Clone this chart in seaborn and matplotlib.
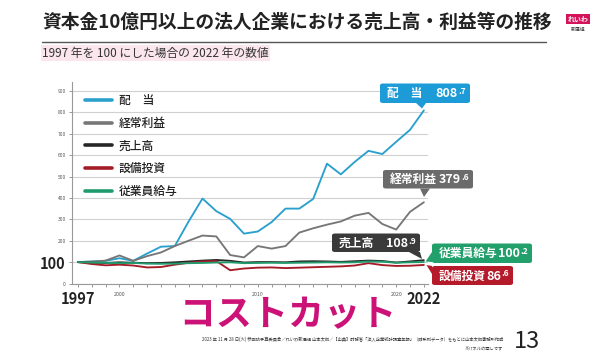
import matplotlib
matplotlib.use("Agg")
import matplotlib.pyplot as plt
import matplotlib.patheffects as pe
from matplotlib.patches import FancyBboxPatch, Polygon
import seaborn as sns
import pandas as pd

# データ (1997年=100)
years = list(range(1997, 2023))
dividend = [100, 103, 106, 118, 106, 140, 172, 175, 290, 397, 338, 302, 233,
            243, 287, 350, 350, 395, 560, 510, 568, 620, 605, 662, 718, 808.7]
profit = [100, 102, 107, 131, 106, 128, 145, 175, 200, 224, 220, 133, 122,
          175, 163, 175, 238, 258, 275, 290, 317, 330, 278, 252, 335, 379.6]
sales = [100, 97, 96, 99, 97, 95, 96, 99, 103, 107, 110, 106, 98,
         100, 100, 99, 103, 104, 103, 101, 104, 107, 105, 98, 103, 108.9]
capex = [100, 91, 85, 88, 84, 75, 77, 88, 97, 103, 105, 62, 70,
         74, 75, 72, 74, 76, 78, 80, 84, 95, 86, 82, 83, 86.6]
salary = [100, 98, 97, 95, 96, 93, 92, 93, 95, 96, 98, 99, 95,
          96, 97, 96, 97, 98, 99, 98, 99, 103, 102, 97, 99, 100.2]

names = ["配　当", "経常利益", "売上高", "設備投資", "従業員給与"]
line_colors = ["#2aa0cd", "#777777", "#262626", "#a31c27", "#1f9b6d"]
box_colors = ["#1d9bd7", "#6b6b6b", "#3a3a3a", "#b51a2b", "#22a06b"]

df = pd.DataFrame({
    "年": years * 5,
    "値": dividend + profit + sales + capex + salary,
    "系列": [n for n in names for _ in years],
})

sns.set_theme(style="white")
plt.rcParams["font.family"] = ["Noto Sans CJK JP", "DejaVu Sans"]

W, H = 600, 361
fig = plt.figure(figsize=(6, 3.61), dpi=100)


def fx(x):
    return x / W


def fy(y):
    return 1 - y / H


ax = fig.add_axes([fx(72), fy(283.5), 356 / W, 201.8 / H])
sns.lineplot(data=df, x="年", y="値", hue="系列", hue_order=names,
             palette=dict(zip(names, line_colors)), linewidth=1.35, ax=ax)

ax.set_xlim(1996.57, 2022.3)
ax.set_ylim(0, 943)
ax.set_xlabel("")
ax.set_ylabel("")

# y軸
ax.set_yticks(range(0, 1000, 100))
ax.set_yticklabels([str(v) for v in range(0, 1000, 100)])
ax.tick_params(axis="y", left=True, length=2.5, width=0.6, color="#888",
               labelsize=3.5, labelcolor="#555", pad=2)
big = ax.get_yticklabels()[1]
big.set_fontsize(10.5)
big.set_fontweight("bold")
big.set_color("#222")
ax.yaxis.grid(True, color="#d0d0d0", linewidth=0.8)

# x軸
ax.set_xticks([1997, 2000, 2010, 2020, 2022])
ax.set_xticklabels(["1997", "2000", "2010", "2020", "2022"])
ax.set_xticks(years, minor=True)
ax.tick_params(axis="x", which="both", bottom=True, length=2.5, width=0.6,
               color="#888", labelsize=3.8, labelcolor="#555", pad=3.5)
for i in (0, 4):
    t = ax.xaxis.get_major_ticks()[i]
    t.tick1line.set_markersize(10)
    t.set_pad(3)
    t.label1.set_fontsize(10.5)
    t.label1.set_fontweight("bold")
    t.label1.set_color("#222")

for s in ("top", "right"):
    ax.spines[s].set_visible(False)
for s in ("left", "bottom"):
    ax.spines[s].set_color("#999")
    ax.spines[s].set_linewidth(0.8)

handles, labels = ax.get_legend_handles_labels()
leg = ax.legend(handles, labels, loc="upper left",
                bbox_to_anchor=((85 - 72) / 356, (283.5 - 94) / 201.8),
                frameon=False, fontsize=8.5, handlelength=2.3,
                handletextpad=0.55, labelspacing=0.82, borderpad=0,
                borderaxespad=0)
for h in leg.get_lines():
    h.set_linewidth(2.6)
for t in leg.get_texts():
    t.set_color("#222")
    t.set_fontweight("medium")

# 末尾の値ラベル
boxes = [
    (380, 83.5, 470, 103, [(416, 103), (426, 103), (422, 108.5)]),
    (383, 170, 473, 188.5, [(420, 188.5), (430, 188.5), (424, 197)]),
    (332, 233.5, 420, 252, [(409, 252), (420, 252), (422, 259)]),
    (432, 243.5, 532, 263, [(432, 252), (432, 262), (425.5, 261.5)]),
    (432, 266, 513, 285, [(432, 266), (432, 274), (426.5, 265)]),
]
values = [dividend[-1], profit[-1], sales[-1], capex[-1], salary[-1]]
order = [0, 1, 2, 4, 3]
for k, (x0, y0, x1, y1, tri) in zip(order, boxes):
    c = box_colors[k]
    fig.patches.append(FancyBboxPatch(
        (fx(x0), fy(y1)), (x1 - x0) / W, (y1 - y0) / H,
        boxstyle="round,pad=0,rounding_size=0.005", transform=fig.transFigure,
        facecolor=c, edgecolor="none"))
    fig.patches.append(Polygon([(fx(a), fy(b)) for a, b in tri], closed=True,
                               transform=fig.transFigure, facecolor=c,
                               edgecolor="none"))
    ym = fy((y0 + y1) / 2 + 0.5)
    fig.text(fx(x0 + 7), ym, names[k], color="white", fontsize=8.5,
             fontweight="bold", ha="left", va="center")
    whole, dec = f"{values[k]:.1f}".split(".")
    fig.text(fx(x1 - 12), ym, whole, color="white", fontsize=9,
             fontweight="bold", ha="right", va="center")
    fig.text(fx(x1 - 12), fy((y0 + y1) / 2 - 1.5), "." + dec, color="white",
             fontsize=6, fontweight="bold", ha="left", va="center")

# タイトル
fig.text(fx(42), fy(22), "資本金10億円以上の法人企業における売上高・利益等の推移",
         fontsize=13.5, fontweight="bold", color="#222", ha="left", va="center")
fig.add_artist(plt.Line2D([fx(42), fx(546)], [fy(42), fy(42)],
                          color="#555", linewidth=1))
fig.text(fx(42), fy(53), "1997 年を 100 にした場合の 2022 年の数値",
         fontsize=8.5, color="#333", ha="left", va="center",
         bbox=dict(boxstyle="square,pad=0.1", facecolor="#fbe6ee",
                   edgecolor="none"))
fig.text(fx(578), fy(19), "れいわ", fontsize=5, fontweight="bold",
         color="white", ha="center", va="center",
         bbox=dict(boxstyle="square,pad=0.2", facecolor="#d4145a",
                   edgecolor="none"))
fig.text(fx(578), fy(29), "新選組", fontsize=3.5, color="#333",
         ha="center", va="center")

fig.text(fx(288), fy(315), "コストカット", fontsize=26, fontweight="bold",
         color="#cc1177", ha="center", va="center",
         path_effects=[pe.withStroke(linewidth=3, foreground="white")])

fig.text(fx(503), fy(339),
         "2023 年 11 月 28 日(火) 参議院予算委員会／れいわ新選組 山本太郎／【出典】財務省「法人企業統計調査年報」（時系列データ）をもとに山本太郎事務所作成",
         fontsize=3.1, color="#333", ha="right", va="center")
fig.text(fx(503), fy(348), "※パネルの写しです", fontsize=3.1, color="#333",
         ha="right", va="center")
fig.text(fx(527), fy(342), "13", fontsize=17, color="#222",
         ha="center", va="center")

fig.savefig("out.png", dpi=100, facecolor="white")
